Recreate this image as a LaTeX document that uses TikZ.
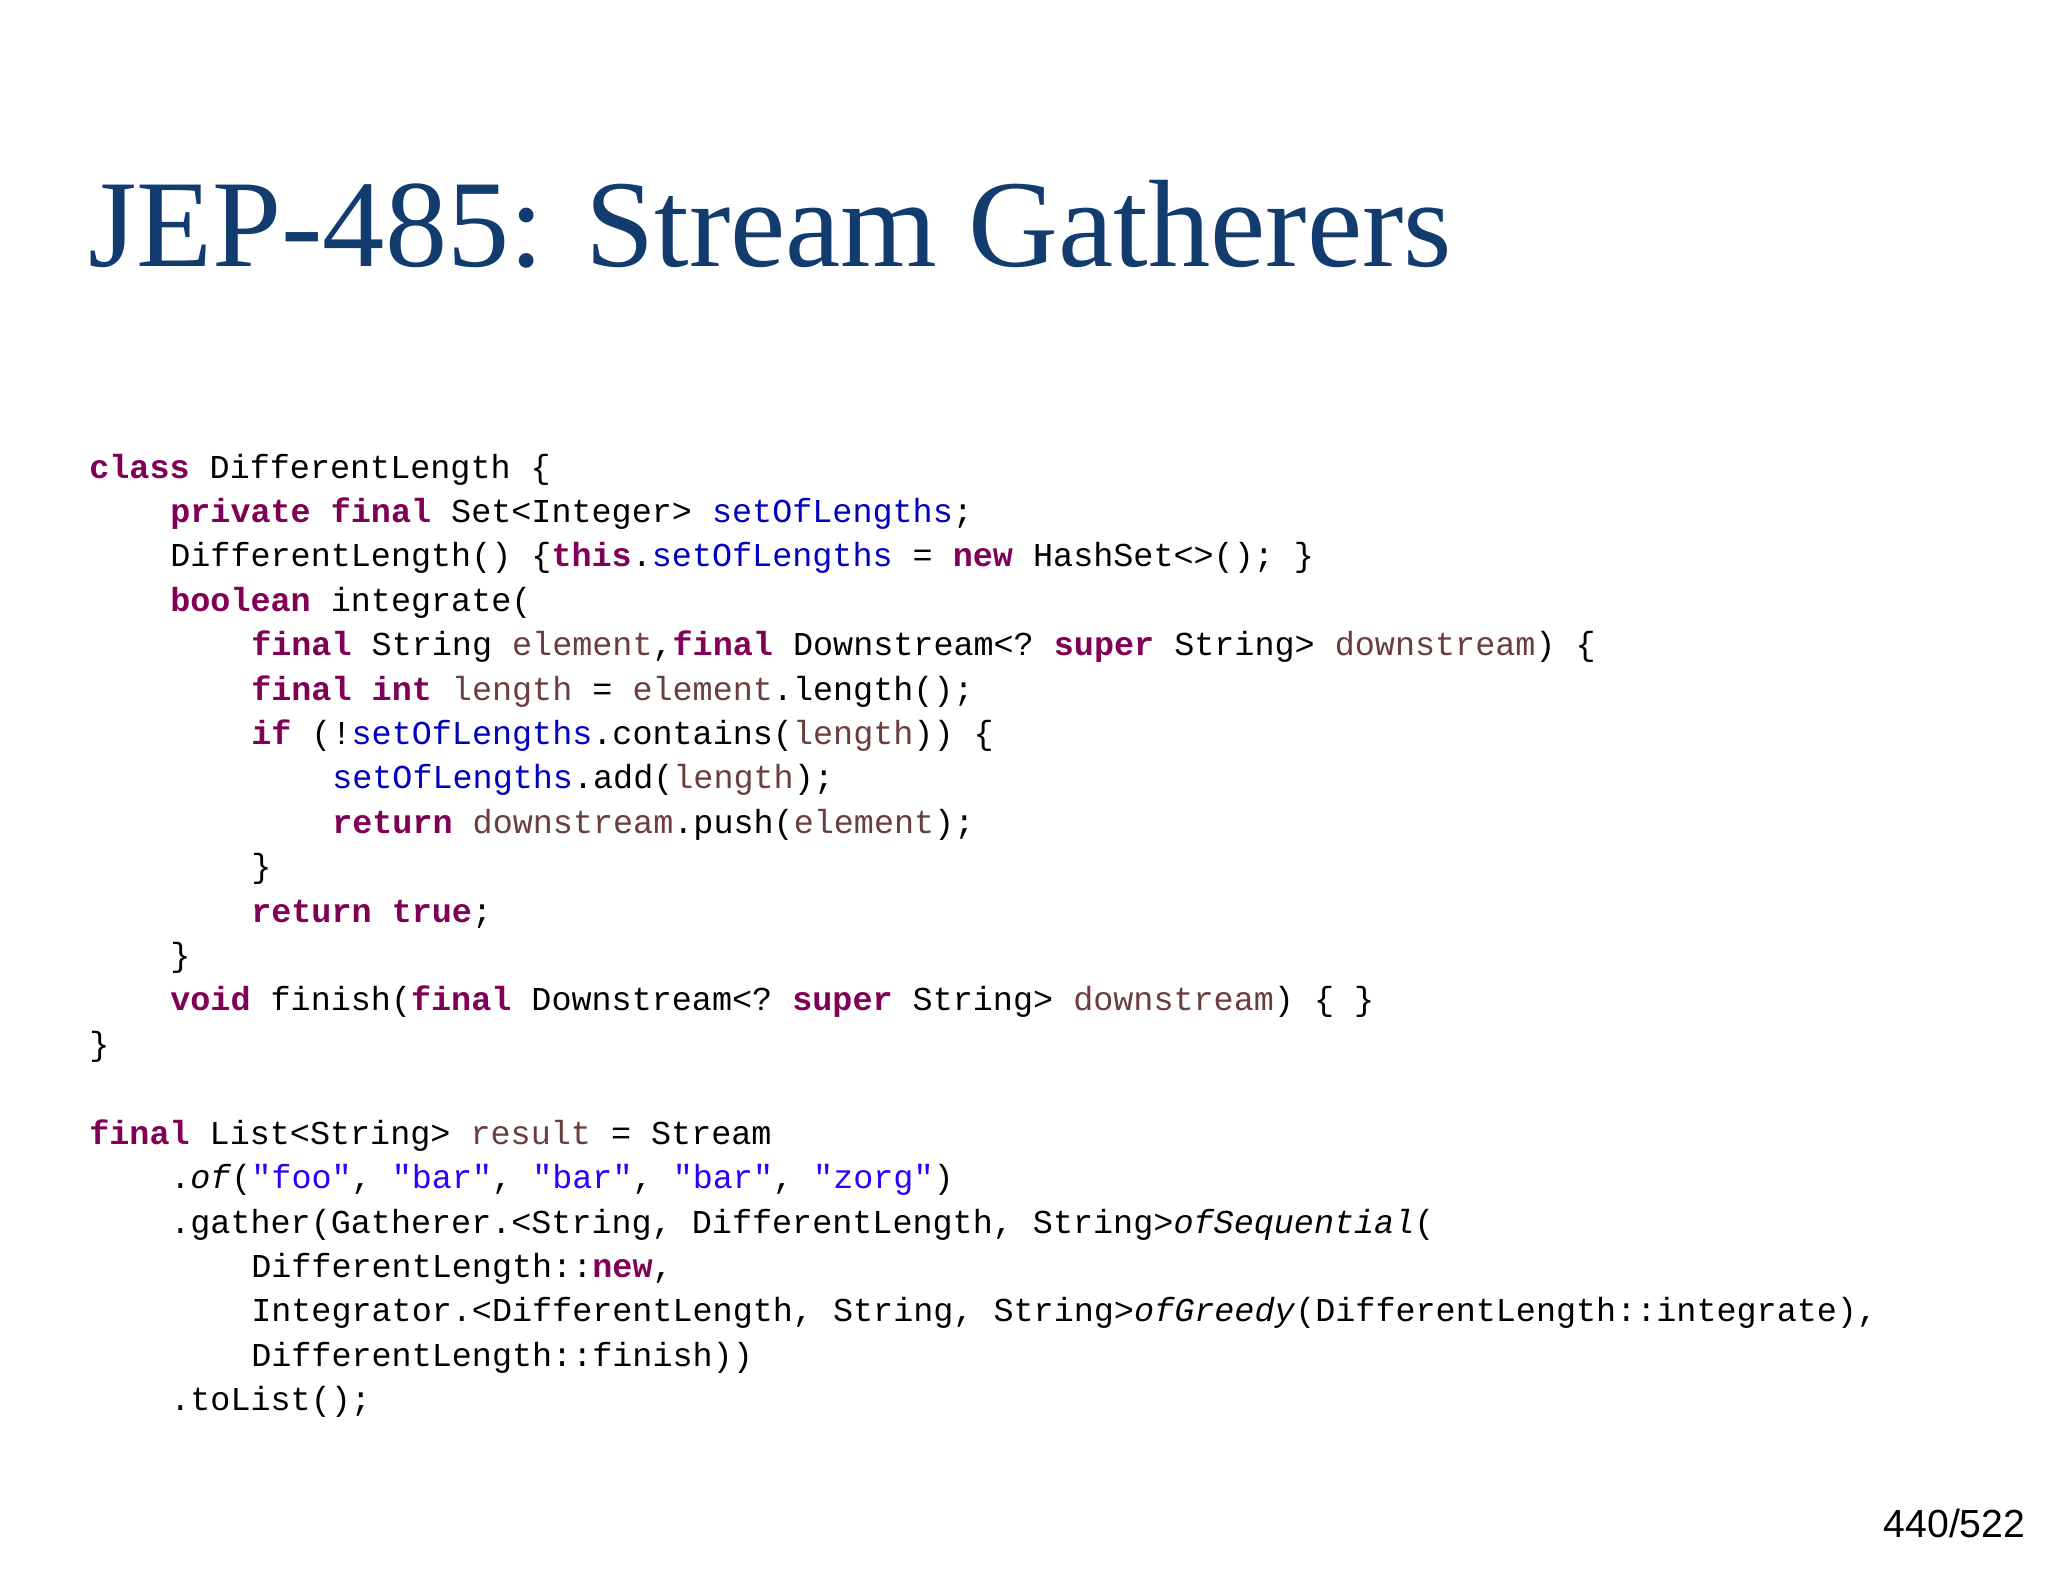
\documentclass[tikz,border=0pt]{standalone}
\usepackage{fontspec}
\setmainfont{Liberation Serif}
\setmonofont{Liberation Mono}
\newfontfamily\pagefont{Liberation Sans}
\definecolor{kwc}{HTML}{7F0055}
\definecolor{fdc}{HTML}{0000C0}
\definecolor{lvc}{HTML}{6A3E3E}
\definecolor{stc}{HTML}{2A00FF}
\definecolor{titlec}{HTML}{123C6E}
\newcommand{\kw}[1]{\textcolor{kwc}{\textbf{#1}}}
\newcommand{\fd}[1]{\textcolor{fdc}{#1}}
\newcommand{\lv}[1]{\textcolor{lvc}{#1}}
\newcommand{\st}[1]{\textcolor{stc}{#1}}
\begin{document}
\begin{tikzpicture}[x=0.5pt,y=-0.5pt,
  code/.style={anchor=base west,inner sep=0pt,font=\ttfamily\fontsize{12.8}{17}\selectfont}]
\useasboundingbox[fill=white] (0,0) rectangle (1568,1211);
\node[anchor=base west,inner sep=0pt,text=titlec,font=\fontsize{47.6}{54}\selectfont] (title) at (67,204) {JEP-485: Stream Gatherers};
\node[code] (l1) at (68,366) {\kw{class} DifferentLength \{};
\node[code] (l2) at (130,400) {\kw{private} \kw{final} Set<Integer> \fd{setOfLengths};};
\node[code] (l3) at (130,434) {DifferentLength() \{\kw{this}.\fd{setOfLengths} = \kw{new} HashSet<>(); \}};
\node[code] (l4) at (130,468) {\kw{boolean} integrate(};
\node[code] (l5) at (192,502) {\kw{final} String \lv{element},\kw{final} Downstream<? \kw{super} String> \lv{downstream}) \{};
\node[code] (l6) at (192,536) {\kw{final} \kw{int} \lv{length} = \lv{element}.length();};
\node[code] (l7) at (192,570) {\kw{if} (!\fd{setOfLengths}.contains(\lv{length})) \{};
\node[code] (l8) at (254,604) {\fd{setOfLengths}.add(\lv{length});};
\node[code] (l9) at (254,638) {\kw{return} \lv{downstream}.push(\lv{element});};
\node[code] (l10) at (192,672) {\}};
\node[code] (l11) at (192,706) {\kw{return} \kw{true};};
\node[code] (l12) at (130,740) {\}};
\node[code] (l13) at (130,774) {\kw{void} finish(\kw{final} Downstream<? \kw{super} String> \lv{downstream}) \{ \}};
\node[code] (l14) at (68,808) {\}};
\node[code] (m1) at (68,876) {\kw{final} List<String> \lv{result} = Stream};
\node[code] (m2) at (130,910) {.\textit{of}(\st{"foo"}, \st{"bar"}, \st{"bar"}, \st{"bar"}, \st{"zorg"})};
\node[code] (m3) at (130,944) {.gather(Gatherer.<String, DifferentLength, String>\textit{ofSequential}(};
\node[code] (m4) at (192,978) {DifferentLength::\kw{new},};
\node[code] (m5) at (192,1012) {Integrator.<DifferentLength, String, String>\textit{ofGreedy}(DifferentLength::integrate),};
\node[code] (m6) at (192,1046) {DifferentLength::finish))};
\node[code] (m7) at (130,1080) {.toList();};
\node[anchor=base east,inner sep=0pt,font=\pagefont\fontsize{15}{18}\selectfont] (pg) at (1551,1177) {440/522};
\end{tikzpicture}
\end{document}
